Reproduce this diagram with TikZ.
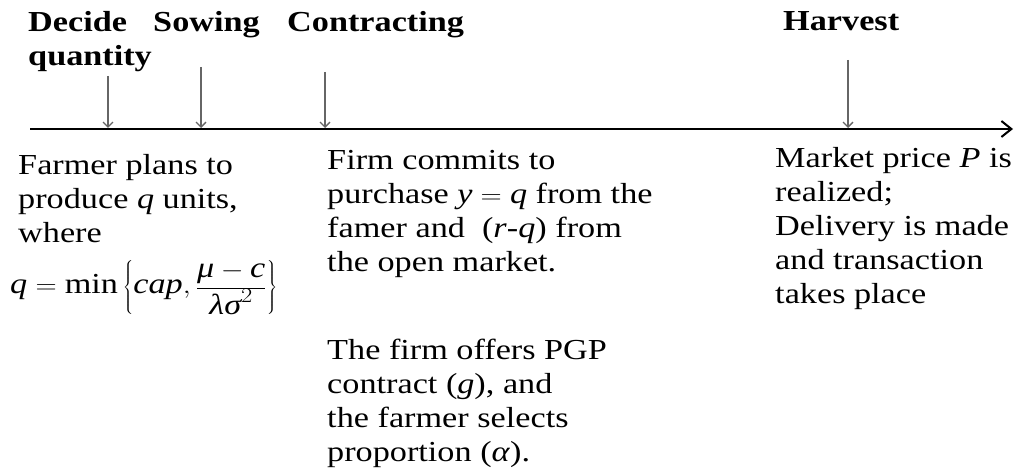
\documentclass[tikz,border=0pt]{standalone}
\usepackage{fontspec}
\setmainfont{Liberation Serif}
\usetikzlibrary{arrows.meta}

\begin{document}
\begin{tikzpicture}[x=1pt,y=-1pt,
    head/.style={anchor=base west,inner sep=0pt,align=left,xscale=1.18,
      font=\fontsize{29}{34}\selectfont\bfseries},
    note/.style={anchor=base west,inner sep=0pt,align=left,xscale=1.18,
      font=\fontsize{29}{34}\selectfont},
    tick/.style={draw=black!60,line width=1.3pt,
      -{Straight Barb[length=5pt,width=10pt]}},
    axis/.style={line width=2pt,-{Straight Barb[length=10pt,width=16pt]}}]
  \useasboundingbox (0,0) rectangle (1015,473);

  % time line
  \coordinate (start) at (30,129);
  \coordinate (stop) at (1013,129);
  \draw[axis] (start) -- (stop);

  % stages (base = baseline of the last line)
  \node[head] (decide) at (28,66) {Decide\\quantity};
  \node[head] (sowing) at (153,32) {Sowing};
  \node[head] (contracting) at (287,32) {Contracting};
  \node[head] (harvest) at (783,31) {Harvest};

  \coordinate (d1) at (108,76);  \coordinate (d2) at (108,128);
  \coordinate (s1) at (201,67);  \coordinate (s2) at (201,128);
  \coordinate (c1) at (325,72);  \coordinate (c2) at (325,128);
  \coordinate (h1) at (848,60);  \coordinate (h2) at (848,128);
  \draw[tick] (d1) -- (d2);
  \draw[tick] (s1) -- (s2);
  \draw[tick] (c1) -- (c2);
  \draw[tick] (h1) -- (h2);

  % what happens
  \node[note] (farmer) at (18,243)
    {Farmer plans to\\produce \textit{q} units,\\where};
  \node[note,anchor=west] (rule) at (10,288)
    {$\displaystyle \textit{q} = \textrm{min}\left\{\textit{cap},
      \frac{\textit{μ} - \textit{c}}{\textit{λσ}^{2}}\right\}$};
  \node[note] (firm) at (327,272)
    {Firm commits to\\purchase $\textit{y} = \textit{q}$ from the\\
     famer and \ (\textit{r}-\textit{q}) from\\the open market.};
  \node[note] (offer) at (327,461)
    {The firm offers PGP\\contract (\textit{g}), and\\
     the farmer selects\\proportion (\textit{α}).};
  \node[note] (market) at (775,303)
    {Market price \textit{P} is\\realized;\\Delivery is made\\
     and transaction\\takes place};
\end{tikzpicture}
\end{document}
